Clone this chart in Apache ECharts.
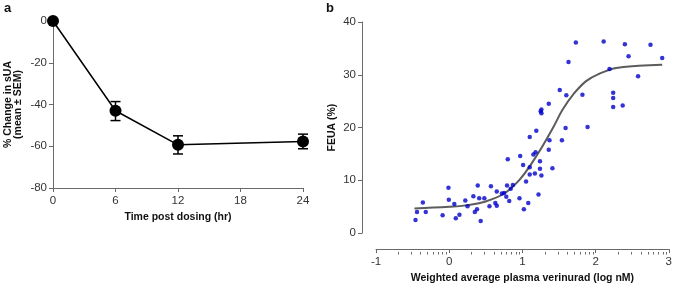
<!DOCTYPE html>
<html><head><meta charset="utf-8">
<script src="https://cdn.jsdelivr.net/npm/echarts@6/dist/echarts.min.js"></script>
<style>html,body{margin:0;padding:0;background:#fff}#c{width:675px;height:289px}</style>
</head><body><div id="c"></div>
<script>
// Panel a
const timeHr = [0, 6, 12, 24];
const sUAMean = [0, -43.0, -59.3, -57.7];
const sUALow = [0, -47.7, -63.7, -61.2];
const sUAHigh = [0, -38.6, -55.0, -54.2];
// Panel b scatter
const logConc = [-0.46,-0.44,-0.36,-0.32,-0.09,-0.01,-0.005,0.07,0.09,0.14,0.22,0.25,0.33,0.35,0.38,0.39,0.41,0.43,0.48,0.55,0.57,0.63,0.65,0.65,0.72,0.75,0.78,0.79,0.80,0.82,0.84,0.87,0.96,0.97,1.01,1.02,1.05,1.08,1.10,1.10,1.10,1.15,1.17,1.18,1.19,1.22,1.24,1.24,1.25,1.26,1.26,1.26,1.36,1.37,1.36,1.41,1.51,1.54,1.59,1.60,1.63,1.73,1.82,1.89,2.11,2.19,2.24,2.24,2.24,2.37,2.40,2.45,2.58,2.75,2.91];
const feua = [2.5,4.0,5.8,4.0,3.4,8.6,6.3,5.5,2.8,3.5,6.2,5.1,7.0,4.0,4.5,9.0,6.6,2.3,6.6,5.1,8.9,5.7,7.9,5.2,7.5,7.6,6.9,9.0,14.0,6.1,8.4,9.1,6.6,14.6,12.9,4.5,9.8,5.7,18.2,12.5,11.1,14.9,11.3,15.3,19.4,7.3,13.6,12.2,23.1,22.7,23.4,10.9,24.5,17.6,15.8,12.3,27.1,17.6,19.9,26.1,32.4,36.1,26.2,20.1,36.3,31.1,26.6,25.6,23.9,24.2,35.8,33.5,29.7,35.7,33.2];
// Panel b fitted curve
const fitX = [-0.475,0,0.25,0.5,0.75,0.96,1.14,1.28,1.42,1.55,1.69,1.87,2.05,2.28,2.59,2.91];
const fitY = [4.66,4.97,5.3,6.0,7.5,10.1,13.5,16.6,20.0,23.4,26.2,28.8,30.2,31.3,31.7,31.9];

const FONT = "'Liberation Sans', Arial, Helvetica, sans-serif";
const AX = '#6a6a6a';
const LBL = '#333';

const minorLog = [];
for (let d = -1; d < 3; d++) for (let k = 2; k <= 9; k++) minorLog.push(d + Math.log10(k));

const chart = echarts.init(document.getElementById('c'), null, {renderer: 'canvas'});
const axisCommon = {
  axisLine: {show: true, onZero: false, lineStyle: {color: AX, width: 1}},
  axisTick: {show: true, length: 4, lineStyle: {color: AX}},
  splitLine: {show: false},
  axisLabel: {color: LBL, fontSize: 11.5, fontFamily: FONT},
  nameTextStyle: {color: '#111', fontSize: 10.5, fontWeight: 'bold', fontFamily: FONT}
};

const option = {
  animation: false,
  backgroundColor: '#fff',
  textStyle: {fontFamily: FONT},
  graphic: [
    {type: 'text', left: 4, top: 2, style: {text: 'a', font: 'bold 13px ' + FONT, fill: '#111'}},
    {type: 'text', left: 326, top: 2, style: {text: 'b', font: 'bold 13px ' + FONT, fill: '#111'}}
  ],
  grid: [
    {left: 53, top: 21, width: 250, height: 167},
    {left: 376, top: 22, width: 294, height: 214},
    {left: 376, top: 22, width: 294, height: 214}
  ],
  xAxis: [
    Object.assign({}, axisCommon, {gridIndex: 0, type: 'value', min: 0, max: 24, interval: 6,
      name: 'Time post dosing (hr)', nameLocation: 'middle', nameGap: 24,
      axisLabel: Object.assign({}, axisCommon.axisLabel, {margin: 7})}),
    Object.assign({}, axisCommon, {gridIndex: 1, type: 'value', min: -1, max: 3, interval: 1, offset: 16,
      name: 'Weighted average plasma verinurad (log nM)', nameLocation: 'middle', nameGap: 21,
      axisLabel: Object.assign({}, axisCommon.axisLabel, {margin: 7})}),
    {gridIndex: 2, type: 'value', min: -1, max: 3, offset: 16, position: 'bottom',
      axisLine: {show: false, onZero: false}, splitLine: {show: false}, axisLabel: {show: false},
      axisTick: {show: true, length: 2.5, customValues: minorLog, lineStyle: {color: AX}}}
  ],
  yAxis: [
    Object.assign({}, axisCommon, {gridIndex: 0, type: 'value', min: -80, max: 0, interval: 20,
      name: '% Change in sUA\n(mean ± SEM)', nameLocation: 'middle', nameGap: 30, nameRotate: 90,
      nameTextStyle: Object.assign({}, axisCommon.nameTextStyle, {lineHeight: 10}),
      axisLabel: Object.assign({}, axisCommon.axisLabel, {margin: 6})}),
    Object.assign({}, axisCommon, {gridIndex: 1, type: 'value', min: 0, max: 40, interval: 10, offset: 14,
      name: 'FEUA (%)', nameLocation: 'middle', nameGap: 24, nameRotate: 90,
      axisLabel: Object.assign({}, axisCommon.axisLabel, {margin: 6})}),
    {gridIndex: 2, type: 'value', min: 0, max: 40, show: false}
  ],
  series: [
    {type: 'custom', xAxisIndex: 0, yAxisIndex: 0, z: 3,
      data: timeHr.map((t, i) => [t, sUALow[i], sUAHigh[i]]),
      renderItem: function (params, api) {
        const lo = api.coord([api.value(0), api.value(1)]);
        const hi = api.coord([api.value(0), api.value(2)]);
        const w = 5;
        const st = {stroke: '#000', lineWidth: 1.5};
        return {type: 'group', children: [
          {type: 'line', shape: {x1: lo[0], y1: lo[1], x2: hi[0], y2: hi[1]}, style: st},
          {type: 'line', shape: {x1: lo[0] - w, y1: lo[1], x2: lo[0] + w, y2: lo[1]}, style: st},
          {type: 'line', shape: {x1: hi[0] - w, y1: hi[1], x2: hi[0] + w, y2: hi[1]}, style: st}
        ]};
      }
    },
    {type: 'line', xAxisIndex: 0, yAxisIndex: 0, z: 4,
      data: timeHr.map((t, i) => [t, sUAMean[i]]),
      symbol: 'circle', symbolSize: 12, showSymbol: true,
      lineStyle: {color: '#000', width: 1.5}, itemStyle: {color: '#000'}},
    {type: 'line', xAxisIndex: 1, yAxisIndex: 1, z: 3,
      data: fitX.map((x, i) => [x, fitY[i]]), smooth: 0.4, showSymbol: false, symbol: 'none',
      lineStyle: {color: '#5c5c5c', width: 2}},
    {type: 'scatter', xAxisIndex: 1, yAxisIndex: 1, z: 4,
      data: logConc.map((x, i) => [x, feua[i]]), symbolSize: 4.5,
      itemStyle: {color: '#0000cc'}}
  ]
};
chart.setOption(option);
</script>
</body></html>
